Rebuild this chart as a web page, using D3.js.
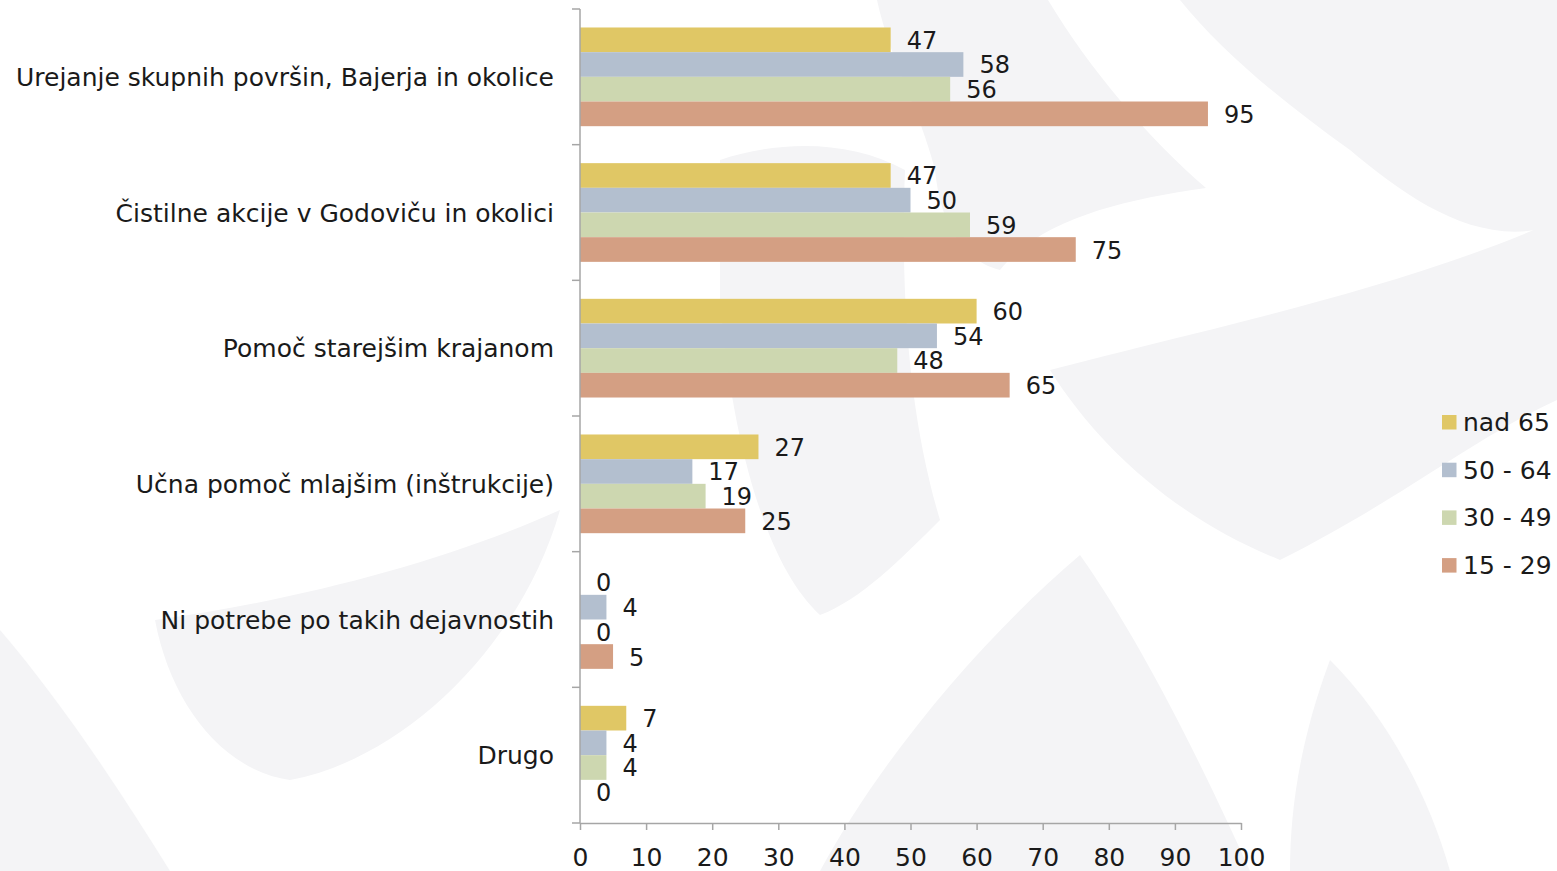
<!DOCTYPE html>
<html>
  <head>
    <meta charset="utf-8">
    <title>Aktivnosti po starostnih skupinah</title>
    <script src="https://d3js.org/d3.v7.min.js"></script>
    <style>
      body { margin: 0; background: #fff; }
      svg { display: block; }
      text { font-family: "DejaVu Sans", sans-serif; fill: #1a1a1a; }
    </style>
  </head>
  <body>
    <svg id="chart" width="1557" height="871"></svg>
    <script>
      // data
      var categories = [
        "Urejanje skupnih površin, Bajerja in okolice",
        "Čistilne akcije v Godoviču in okolici",
        "Pomoč starejšim krajanom",
        "Učna pomoč mlajšim (inštrukcije)",
        "Ni potrebe po takih dejavnostih",
        "Drugo"
      ];
      var groups = ["nad 65", "50 - 64", "30 - 49", "15 - 29"];
      var nad65 = [47, 47, 60, 27, 0, 7];
      var age5064 = [58, 50, 54, 17, 4, 4];
      var age3049 = [56, 59, 48, 19, 0, 4];
      var age1529 = [95, 75, 65, 25, 5, 0];
      var xTicks = [0, 10, 20, 30, 40, 50, 60, 70, 80, 90, 100];
      var colours = ["#e0c765", "#b3bfcf", "#cdd7b0", "#d49f83"];

      var series = [nad65, age5064, age3049, age1529];
      var rows = categories.map(function(c, i) {
        return { cat: c, values: groups.map(function(g, j) { return { group: g, value: series[j][i] }; }) };
      });

      var svg = d3.select("#chart");
      var margin = { top: 9, left: 580, right: 316, bottom: 48 };
      var width = 1557 - margin.left - margin.right;
      var height = 871 - margin.top - margin.bottom;

      // faint watermark shapes in the background
      var shapes = [
        "M877,0 L1048,0 C1090,70 1150,140 1206,188 C1120,200 1040,220 1000,270 C960,260 940,220 935,170 C920,110 890,60 877,0 Z",
        "M1180,0 L1557,0 L1557,225 C1480,250 1410,200 1350,150 C1280,100 1220,50 1180,0 Z",
        "M720,160 C780,140 850,140 905,170 C900,300 910,420 940,520 C900,560 860,600 820,615 C760,560 730,420 720,300 Z",
        "M1050,370 C1200,330 1400,290 1557,220 L1557,400 C1470,440 1400,500 1280,560 C1180,520 1100,450 1050,370 Z",
        "M560,510 C450,560 300,600 155,620 C170,700 220,770 290,780 C400,760 520,650 560,510 Z",
        "M0,630 C60,700 120,790 170,871 L0,871 Z",
        "M1080,555 C980,640 880,760 820,871 L1250,871 C1200,760 1140,640 1080,555 Z",
        "M1330,660 C1300,740 1290,810 1290,871 L1450,871 C1430,800 1390,720 1330,660 Z"
      ];
      svg.append("g")
        .selectAll("path")
          .data(shapes)
        .enter().append("path")
          .attr("d", function(d) { return d; })
          .style("fill", "#f4f4f6");

      var g = svg.append("g")
        .attr("transform", "translate(" + margin.left + "," + margin.top + ")");

      var x = d3.scaleLinear()
        .domain([0, 100])
        .range([0, width]);
      var y = d3.scaleBand()
        .domain(categories)
        .range([0, height])
        .paddingInner(0.2725)
        .paddingOuter(0.13625);
      var ySub = d3.scaleBand()
        .domain(groups)
        .range([0, y.bandwidth()]);
      var colour = d3.scaleOrdinal()
        .domain(groups)
        .range(colours);

      // bars
      var cat = g.selectAll(".cat")
          .data(rows)
        .enter().append("g")
          .attr("class", "cat")
          .attr("transform", function(d) { return "translate(0," + y(d.cat) + ")"; });
      cat.selectAll("rect")
          .data(function(d) { return d.values; })
        .enter().append("rect")
          .attr("x", 0)
          .attr("y", function(d) { return ySub(d.group); })
          .attr("width", function(d) { return x(d.value); })
          .attr("height", ySub.bandwidth())
          .style("fill", function(d) { return colour(d.group); });
      cat.selectAll(".val")
          .data(function(d) { return d.values; })
        .enter().append("text")
          .attr("class", "val")
          .attr("x", function(d) { return x(d.value) + 16; })
          .attr("y", function(d) { return ySub(d.group) + ySub.bandwidth() / 2 + 9; })
          .style("font-size", "24px")
          .text(function(d) { return d.value; });

      // category labels
      g.selectAll(".catLabel")
          .data(categories)
        .enter().append("text")
          .attr("class", "catLabel")
          .attr("x", -26)
          .attr("y", function(d) { return y(d) + y.bandwidth() / 2 + 9; })
          .attr("text-anchor", "end")
          .style("font-size", "25px")
          .text(function(d) { return d; });

      // y axis with ticks on category boundaries
      var yBounds = d3.range(categories.length + 1).map(function(i) { return i * y.step(); });
      g.append("line")
        .attr("x1", 0).attr("x2", 0)
        .attr("y1", 0).attr("y2", height)
        .style("stroke", "#a6a6a6")
        .style("stroke-width", 1.5);
      g.selectAll(".yTick")
          .data(yBounds)
        .enter().append("line")
          .attr("class", "yTick")
          .attr("x1", -8).attr("x2", 0)
          .attr("y1", function(d) { return d; })
          .attr("y2", function(d) { return d; })
          .style("stroke", "#a6a6a6")
          .style("stroke-width", 1.5);

      // x axis
      var xAxis = g.append("g")
        .attr("transform", "translate(0," + height + ")")
        .call(d3.axisBottom(x).tickValues(xTicks).tickSize(7).tickSizeOuter(0).tickPadding(18));
      xAxis.select(".domain")
        .style("stroke", "#a6a6a6")
        .style("stroke-width", 1.5);
      xAxis.selectAll(".tick line")
        .style("stroke", "#a6a6a6")
        .style("stroke-width", 1.5);
      xAxis.selectAll(".tick text")
        .style("font-size", "25px")
        .style("font-family", "DejaVu Sans, sans-serif")
        .style("fill", "#1a1a1a");

      // legend
      var legend = svg.append("g")
        .attr("transform", "translate(1442,415)");
      var item = legend.selectAll(".item")
          .data(groups)
        .enter().append("g")
          .attr("class", "item")
          .attr("transform", function(d, i) { return "translate(0," + i * 47.7 + ")"; });
      item.append("rect")
        .attr("width", 14.5)
        .attr("height", 14.5)
        .style("fill", function(d) { return colour(d); });
      item.append("text")
        .attr("x", 21)
        .attr("y", 16)
        .style("font-size", "25px")
        .text(function(d) { return d; });
    </script>
  </body>
</html>
